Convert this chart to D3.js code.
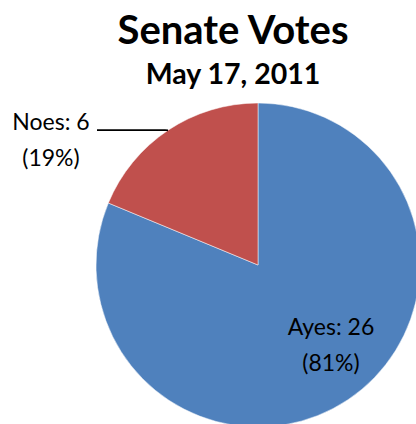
<!DOCTYPE html>
<html>
<head>
<meta charset="utf-8">
<script src="https://cdn.jsdelivr.net/npm/d3@7"></script>
<style>
body { margin: 0; background: #fff; }
text { font-family: Lato, "Open Sans", sans-serif; fill: #000; }
</style>
</head>
<body>
<div id="pieDiv"></div>
<script>
let categories = ["Ayes", "Noes"];
let votes = [26, 6];
let sliceColors = ["#4F81BD", "#C0504D"];
let title = "Senate Votes";
let subtitle = "May 17, 2011";

let width = 416, height = 424;
let cx = 258, cy = 265, radius = 162;

let svg = d3.select("#pieDiv").append("svg")
  .attr("width", width).attr("height", height);

svg.append("text").text(title)
  .attr("x", 233).attr("y", 44)
  .attr("text-anchor", "middle")
  .style("font-weight", "bold").style("font-size", "40px");

svg.append("text").text(subtitle)
  .attr("x", 233).attr("y", 84)
  .attr("text-anchor", "middle")
  .style("font-weight", "bold").style("font-size", "28.5px");

let total = d3.sum(votes);
let pctFormat = d3.format(".0%");
let slices = categories.map((c, i) => ({name: c, value: votes[i], color: sliceColors[i]}));

let pie = d3.pie().value(d => d.value).sort(null);
let arc = d3.arc().innerRadius(0).outerRadius(radius);
let arcs = pie(slices);

let g = svg.append("g").attr("transform", "translate(" + cx + "," + cy + ")");

g.selectAll("path").data(arcs).enter().append("path")
  .attr("d", arc)
  .attr("fill", d => d.data.color)
  .attr("stroke", "#fff")
  .attr("stroke-width", 0.5);

// labels: Ayes inside, Noes outside with leader line
let labelPos = {
  "Ayes": {x: 331, y: 335},
  "Noes": {x: 51, y: 130}
};

arcs.forEach(d => {
  let p = labelPos[d.data.name];
  let t = svg.append("text")
    .attr("text-anchor", "middle")
    .style("font-size", "23px");
  t.append("tspan").attr("x", p.x).attr("y", p.y).text(d.data.name + ": " + d.data.value);
  t.append("tspan").attr("x", p.x).attr("dy", 36).text("(" + pctFormat(d.data.value / total) + ")");
});

// leader line for Noes
let noes = arcs[1];
let a = noes.startAngle + (noes.endAngle - noes.startAngle) * 0.5;
let edge = [cx + radius * Math.sin(a), cy - radius * Math.cos(a)];
svg.append("path")
  .attr("d", d3.line()([[97, 130], [edge[0] - 3, 130], edge]))
  .attr("fill", "none")
  .attr("stroke", "#000")
  .attr("stroke-width", 1.75);
</script>
</body>
</html>
